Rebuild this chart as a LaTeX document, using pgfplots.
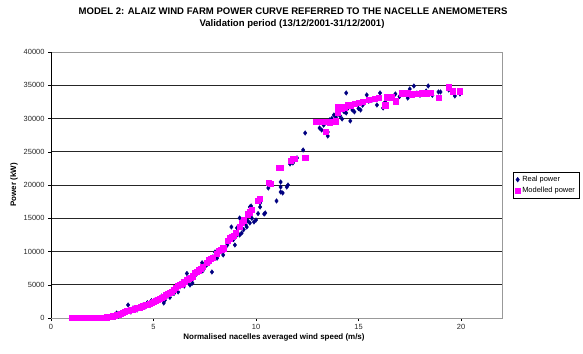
\documentclass[border=0pt]{standalone}
\usepackage{fontspec}
\setmainfont{Liberation Sans}
\usepackage{pgfplots}
\pgfplotsset{compat=1.18}
\definecolor{realc}{RGB}{0,0,128}
\definecolor{modc}{RGB}{255,0,255}
\begin{document}
\begin{tikzpicture}[x=1bp,y=1bp]
\path[use as bounding box] (0,0) rectangle (583,353);
\node[font=\fontsize{9.6}{11}\selectfont\bfseries] at (293,342) {MODEL 2: ALAIZ WIND FARM POWER CURVE REFERRED TO THE NACELLE ANEMOMETERS};
\node[font=\fontsize{9.6}{11}\selectfont\bfseries] at (292,329) {Validation period (13/12/2001-31/12/2001)};
\node[font=\fontsize{8}{9}\selectfont\bfseries] at (274,16) {Normalised nacelles averaged wind speed (m/s)};
\node[font=\fontsize{8}{9}\selectfont\bfseries,rotate=90] at (14,168) {Power (kW)};
\begin{axis}[
  at={(51bp,35bp)}, anchor=south west,
  scale only axis, width=451bp, height=266bp,
  xmin=0, xmax=22, ymin=0, ymax=40000,
  xtick={0,5,10,15,20}, ytick={0,5000,...,40000},
  scaled y ticks=false,
  /pgf/number format/1000 sep={},
  /pgf/number format/assume math mode=true,
  tick label style={font=\fontsize{7.5}{9}\selectfont, text=black!85},
  tick pos=left, tick align=outside, major tick length=3bp,
  tick style={black, line width=0.5pt},
  ymajorgrids, major grid style={black!85, line width=0.7pt},
  axis line style={draw=gray!80, line width=0.8pt},
  clip=false,
  legend style={at={(1.024,0.549)}, anchor=north west, draw=black, line width=0.5pt,
    font=\fontsize{7.5}{9}\selectfont, inner sep=2pt, row sep=0pt, cells={anchor=west},
    legend image post style={}},
  legend image code/.code={\draw[#1] plot coordinates {(0.12cm,0cm)};},
]
\addplot[only marks, mark=diamond*, mark size=2.3pt, color=realc] coordinates {
(1.2,0) (1.5,0) (1.8,20) (2.0,30) (2.2,10) (2.4,50) (2.6,80) (2.8,120) (3.0,200) (3.1,400)
(3.2,750) (3.3,300) (3.4,500) (3.5,700) (3.6,900) (3.76,1960) (3.8,1100) (3.9,900) (4.0,1500) (4.1,1200)
(4.2,1200) (4.3,1700) (4.4,1500) (4.5,2000) (4.6,1700) (4.7,2300) (4.73,2000) (4.8,2100) (4.9,2600) (5.0,2300)
(5.1,2800) (5.2,2600) (5.3,3000) (5.4,3300) (5.5,2260) (5.56,2700) (5.6,3500) (5.7,3300) (5.8,3100) (5.9,3900)
(6.0,3700) (6.1,4400) (6.15,4210) (6.2,3910) (6.3,4700) (6.4,5000) (6.5,4800) (6.6,5400) (6.63,6700) (6.7,5500)
(6.78,4960) (6.8,5900) (6.9,5260) (6.93,6170) (7.0,6400) (7.1,6600) (7.2,6900) (7.3,7300) (7.37,8300) (7.4,7100)
(7.5,7670) (7.6,8000) (7.7,8200) (7.85,6920) (7.9,9200) (8.0,9930) (8.1,9000) (8.2,9800) (8.3,10000) (8.4,9480)
(8.5,10500) (8.6,10980) (8.7,11500) (8.8,13690) (8.9,11800) (8.97,10980) (9.0,12200) (9.07,13540) (9.1,12600) (9.2,12480)
(9.2,15040) (9.3,12780) (9.4,13300) (9.5,14000) (9.55,13690) (9.6,14600) (9.7,14290) (9.7,16690) (9.76,16840) (9.8,15000)
(9.9,14440) (10.0,14740) (10.1,15700) (10.2,16690) (10.2,17300) (10.4,15640) (10.45,15790) (10.6,19550) (11.0,17600) (11.2,20450)
(11.2,19700) (11.2,18950) (11.3,18800) (11.5,19700) (11.56,20000) (11.66,23160) (11.8,23310) (12.0,24070) (12.3,25270) (12.4,27820)
(13.1,28570) (13.2,28270) (13.3,29000) (13.4,29400) (13.5,27970) (13.5,27370) (13.6,29800) (13.7,30000) (13.8,30530) (13.9,30200)
(14.0,30830) (14.1,30400) (14.2,29930) (14.3,31000) (14.4,30830) (14.4,33840) (14.5,31600) (14.6,29630) (14.7,31280) (14.8,31000)
(15.0,31500) (15.1,31280) (15.2,32000) (15.4,33540) (15.5,32600) (15.7,32800) (15.9,32030) (16.05,33840) (16.2,31580) (16.3,32500)
(16.5,33000) (16.8,33690) (17.0,33300) (17.2,33600) (17.4,33080) (17.5,34440) (17.7,34890) (17.85,33840) (18.0,33500) (18.3,34140)
(18.4,34890) (18.6,33500) (18.9,33990) (19.0,33990) (19.4,34290) (19.7,33390) (19.95,33690)
};
\addlegendentry{Real power}
\addplot[only marks, mark=square*, mark size=2.6pt, color=modc] coordinates {
(1.0,0) (1.1,0) (1.2,0) (1.3,0) (1.4,5) (1.5,5) (1.6,10) (1.7,10) (1.8,15) (1.9,20)
(2.0,25) (2.1,30) (2.2,40) (2.3,50) (2.4,60) (2.5,80) (2.6,100) (2.7,130) (2.8,170) (2.9,220)
(3.0,280) (3.1,350) (3.2,450) (3.3,550) (3.4,700) (3.5,850) (3.6,950) (3.7,1050) (3.8,1150) (3.9,1250)
(4.0,1300) (4.1,1400) (4.2,1500) (4.3,1600) (4.4,1700) (4.5,1850) (4.6,1950) (4.7,2050) (4.8,2200) (4.9,2350)
(5.0,2500) (5.1,2650) (5.2,2800) (5.3,2900) (5.4,3000) (5.5,3200) (5.6,3450) (5.7,3700) (5.8,3800) (5.9,4000)
(6.0,4300) (6.1,4600) (6.2,4800) (6.3,5000) (6.4,5200) (6.5,5400) (6.6,5700) (6.7,5900) (6.8,6000) (6.9,6300)
(7.0,6800) (7.1,7000) (7.2,7200) (7.3,7400) (7.4,7700) (7.6,8300) (7.7,8700) (7.8,8900) (7.9,9100) (8.1,9700)
(8.2,10100) (8.3,10300) (8.4,10500) (8.6,11600) (8.7,12000) (8.8,12200) (8.9,12400) (9.0,12800) (9.2,13700) (9.3,14300)
(9.4,14700) (9.6,15600) (9.7,15900) (9.8,16300) (10.1,17700) (10.2,17900) (10.6,20300) (10.7,20200) (11.1,22600) (11.2,22600)
(11.7,23700) (11.8,23900) (11.9,24000) (12.4,24100) (12.9,29500) (13.0,29500) (13.2,29500) (13.4,28000) (13.5,29500) (13.6,29400)
(13.7,29500) (13.8,29500) (13.9,29600) (14.0,30900) (14.0,31800) (14.1,31700) (14.2,31500) (14.3,31700) (14.5,32000) (14.6,32000)
(14.8,32200) (15.0,32400) (15.2,32500) (15.5,32800) (15.8,33000) (16.0,33100) (16.3,32000) (16.4,33200) (16.6,33200) (16.8,32600)
(17.1,33800) (17.4,33800) (17.5,33700) (17.6,33600) (17.8,33700) (18.1,33800) (18.3,33800) (18.5,33900) (18.9,33100) (19.4,34700)
(19.6,34100) (19.95,34100)
};
\addlegendentry{Modelled power}
\draw[black, line width=0.8pt] (axis cs:0,0) -- (axis cs:0,40000);
\end{axis}
\end{tikzpicture}
\end{document}
